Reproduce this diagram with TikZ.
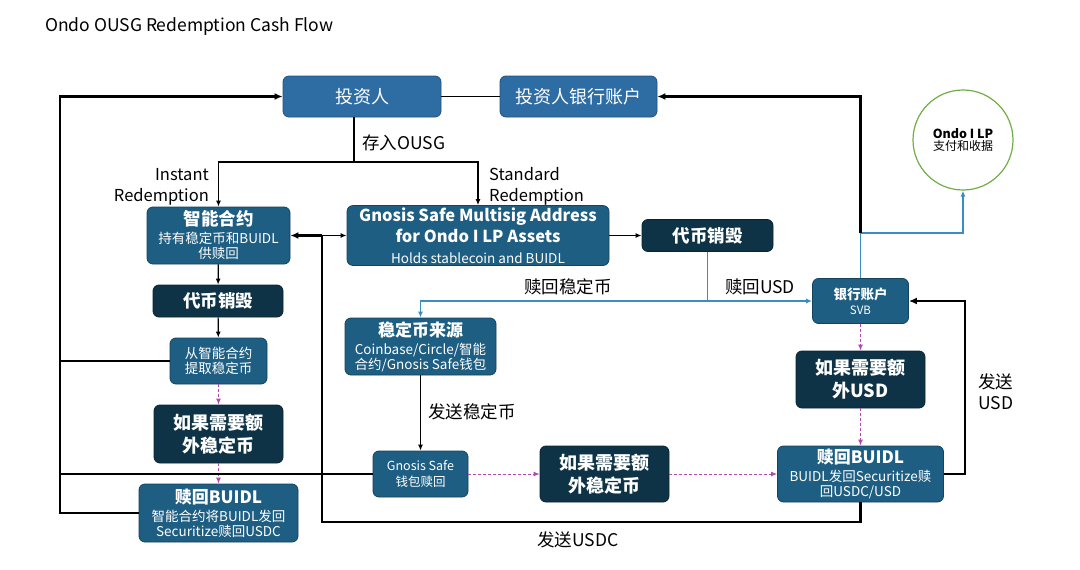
\documentclass[tikz,border=0pt]{standalone}
\usepackage{fontspec}
\setmainfont{Noto Sans CJK SC}
\usepackage{xcolor}
\usetikzlibrary{arrows.meta,positioning,calc}

\definecolor{invblue}{HTML}{2E6CA4}
\definecolor{boxteal}{HTML}{1E5E83}
\definecolor{boxdark}{HTML}{0E3346}
\definecolor{flowblue}{HTML}{3A8DC2}
\definecolor{extramag}{HTML}{B04AB0}
\definecolor{lpgreen}{HTML}{70AD47}

\newcommand{\fsz}[2]{\fontsize{#1}{#2}\selectfont}

\begin{document}
\begin{tikzpicture}[
    x=1pt, y=-1pt,
    topbox/.style={rectangle, rounded corners=6pt, draw=invblue!75!black, fill=invblue, text=white, align=center, inner sep=2pt, line width=0.8pt, font=\fsz{18}{20}},
    tealbox/.style={rectangle, rounded corners=6pt, draw=boxteal!70!black, fill=boxteal, text=white, align=center, inner sep=2pt, line width=0.8pt, font=\fsz{13.5}{15}},
    darkbox/.style={rectangle, rounded corners=6pt, draw=boxdark!70!black, fill=boxdark, text=white, align=center, inner sep=2pt, line width=0.8pt, font=\fsz{18}{23}\bfseries},
    lpcircle/.style={circle, draw=lpgreen, line width=1.2pt, minimum size=100pt, align=center, inner sep=0pt},
    flowlabel/.style={font=\fsz{17.5}{21}, text=black, inner sep=0pt},
    thinline/.style={line width=1.2pt, black},
    thinarrow/.style={thinline, -{Latex[length=6pt,width=5pt]}},
    heavy/.style={line width=2.8pt, black},
    heavyarrow/.style={heavy, -{Latex[length=8pt,width=7pt]}},
    blueline/.style={line width=1.5pt, flowblue},
    bluearrow/.style={blueline, -{Latex[length=6pt,width=5pt]}},
    extra/.style={line width=1pt, extramag, dash pattern=on 3pt off 2pt, -{Latex[length=6pt,width=5pt]}}
]
\useasboundingbox (0,0) rectangle (1080,570);

% Title
\node[anchor=west, font=\fsz{17.5}{20}, inner sep=0pt] (title) at (45,27) {Ondo OUSG Redemption Cash Flow};

% Top row
\node[topbox, minimum width=158pt, minimum height=41pt] (inv) at (362,96.5) {投资人};
\node[topbox, minimum width=157pt, minimum height=41pt] (invbank) at (578.5,96.5) {投资人银行账户};
\node[lpcircle] (lp) at (963,140) {{\fsz{12.5}{15}\bfseries Ondo I LP}\\{\fsz{12}{14}支付和收据}};

% Instant redemption column
\node[tealbox, minimum width=143pt, minimum height=57pt] (smart) at (218.5,235.5) {{\fsz{17.5}{18}\bfseries 智能合约}\\[3pt]持有稳定币和BUIDL\\供赎回};
\node[darkbox, minimum width=130pt, minimum height=32pt, font=\fsz{17.5}{20}\bfseries] (burnL) at (218,301) {代币销毁};
\node[tealbox, minimum width=97pt, minimum height=46pt] (withdraw) at (218.5,361) {从智能合约\\提取稳定币};
\node[darkbox, minimum width=129pt, minimum height=58pt] (extraL) at (218.5,434) {如果需要额\\外稳定币};
\node[tealbox, minimum width=159pt, minimum height=58pt] (buidlL) at (218.5,513) {{\fsz{17}{18}\bfseries 赎回BUIDL}\\[3pt]智能合约将BUIDL发回\\Securitize赎回USDC};

% Standard redemption column
\node[tealbox, minimum width=262pt, minimum height=57pt, font=\fsz{16.5}{21}\bfseries] (gnosis) at (478,235.5) {Gnosis Safe Multisig Address\\for Ondo I LP Assets\\{\fsz{13.5}{14}\mdseries Holds stablecoin and BUIDL}};
\node[darkbox, minimum width=131pt, minimum height=32pt, font=\fsz{17.5}{20}\bfseries] (burnR) at (707.5,235.5) {代币销毁};
\node[tealbox, minimum width=151pt, minimum height=57pt] (source) at (420.5,346.5) {{\fsz{17}{18}\bfseries 稳定币来源}\\[3pt]Coinbase/Circle/智能\\合约/Gnosis Safe钱包};
\node[tealbox, minimum width=95pt, minimum height=46pt, font=\fsz{12.5}{16}] (gwallet) at (420.5,474) {Gnosis Safe\\钱包赎回};
\node[darkbox, minimum width=129pt, minimum height=56pt] (extraM) at (604.5,474) {如果需要额\\外稳定币};

% Bank column
\node[tealbox, minimum width=96pt, minimum height=45pt] (svb) at (860.5,301) {{\fsz{13.5}{15}\bfseries 银行账户}\\{\fsz{11.5}{14}SVB}};
\node[darkbox, minimum width=129pt, minimum height=57pt] (extraR) at (860.5,379.5) {如果需要额\\外USD};
\node[tealbox, minimum width=166pt, minimum height=56pt] (buidlR) at (860.5,474) {{\fsz{17}{18}\bfseries 赎回BUIDL}\\[3pt]BUIDL发回Securitize赎\\回USDC/USD};

% Junctions
\coordinate (fork) at (354,162);
\coordinate (hub) at (322,235.5);
\coordinate (usdcbot) at (322,522);
\coordinate (bsplit) at (707.5,301);
\coordinate (svbsplit) at (860.5,233);
\coordinate (lefttrunk) at (60,513);
\coordinate (sendusd) at (965,474);

% Deposit split
\draw[thinline] (inv) -- (invbank);
\draw[thinline] (inv.south -| fork) -- (fork);
\draw[thinarrow] (fork) -| (smart.north);
\draw[thinarrow] (fork) -| (gnosis.north);

% Instant path
\draw[thinarrow] (smart) -- (burnL);
\draw[thinarrow] (burnL) -- (withdraw);
\draw[extra] (withdraw) -- (extraL);
\draw[extra] (extraL) -- (buidlL);

% Back to investor
\draw[heavyarrow] (buidlL.west) -- (lefttrunk) |- (inv.west);
\draw[heavy] (withdraw.west) -- (withdraw.west -| lefttrunk);
\draw[heavy] (gwallet.west) -- (gwallet.west -| lefttrunk);

% Standard path
\draw[thinarrow] (gnosis) -- (burnR);
\draw[blueline] (burnR.south) -- (bsplit);
\draw[bluearrow] (bsplit) -| (source.north);
\draw[bluearrow] (bsplit) -- (svb.west);
\draw[thinarrow] (source) -- (gwallet);
\draw[extra] (gwallet) -- (extraM);
\draw[extra] (extraM) -- (buidlR);

% Bank account
\draw[extra] (svb) -- (extraR);
\draw[extra] (extraR) -- (buidlR);
\draw[heavyarrow] (buidlR.east) -- (sendusd) |- (svb.east);
\draw[bluearrow] (svb.north) -- (svbsplit) -| (lp.south);
\draw[heavyarrow] (svbsplit) |- (invbank.east);

% USDC back to the contract
\draw[heavy] (buidlR.south) |- (usdcbot) -- (hub);
\draw[heavyarrow] (hub) -- (smart.east);
\draw[thinarrow] (hub) -- (gnosis.west);

% Labels
\node[flowlabel, anchor=west] (lbldeposit) at (362,143) {存入OUSG};
\node[flowlabel, anchor=east, align=right, font=\fsz{16.5}{21}] (lblinstant) at (209,186.5) {Instant\\Redemption};
\node[flowlabel, anchor=west, align=left, font=\fsz{16.5}{21}] (lblstandard) at (489,186.5) {Standard\\Redemption};
\node[flowlabel] (lblstable) at (568,287) {赎回稳定币};
\node[flowlabel] (lblusd) at (760,287) {赎回USD};
\node[flowlabel, anchor=west] (lblsend) at (428,412) {发送稳定币};
\node[flowlabel, anchor=west, align=left] (lblsendusd) at (978,392) {发送\\USD};
\node[flowlabel] (lblusdc) at (578,540) {发送USDC};
\end{tikzpicture}
\end{document}
